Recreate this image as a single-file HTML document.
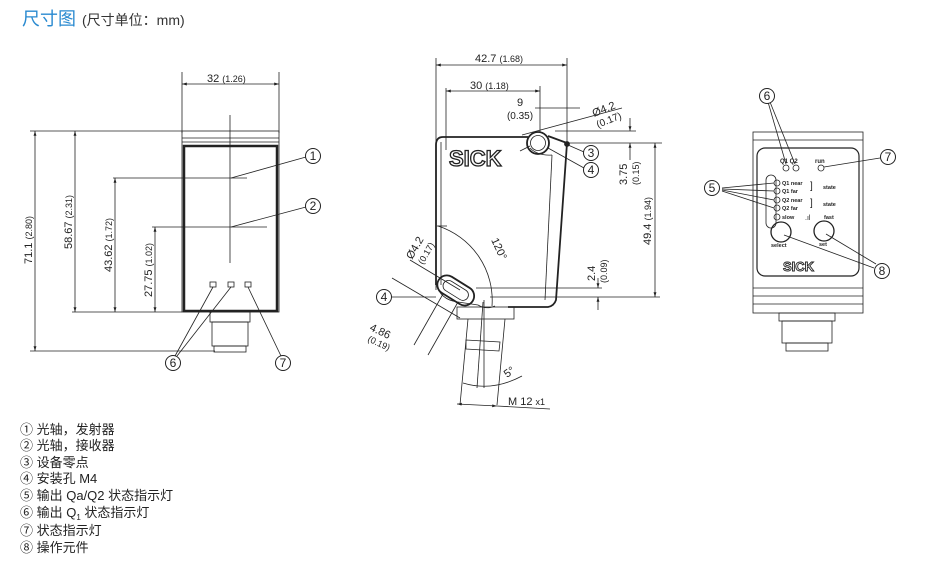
<!DOCTYPE html>
<html><head><meta charset="utf-8">
<style>
html,body{margin:0;padding:0;background:#fff;}
svg{display:block}
text{font-family:"Liberation Sans","Noto Sans CJK SC",sans-serif;fill:#222}
.d{font-size:11px}
.s{font-size:8px}
.n{font-size:12px;text-anchor:middle}
</style></head><body>
<svg width="936" height="566" viewBox="0 0 936 566" xmlns="http://www.w3.org/2000/svg">
<defs>
<marker id="a" viewBox="0 0 10 10" refX="10" refY="5" markerWidth="6" markerHeight="6" orient="auto-start-reverse"><path d="M0,2 L10,5 L0,8z" fill="#222"/></marker>
</defs>
<text x="22" y="25" style="font-size:18px;fill:#2a8ad0">尺寸图</text>
<text x="82" y="25" style="font-size:14px;fill:#333">(尺寸单位：mm)</text>

<g stroke="#222" fill="none" stroke-width="0.8">
<!-- LEFT -->
<line x1="182" y1="72" x2="182" y2="133"/><line x1="279" y1="72" x2="279" y2="133"/>
<line x1="182" y1="84" x2="279" y2="84" marker-start="url(#a)" marker-end="url(#a)"/>
<rect x="182" y="131" width="97" height="181"/>
<line x1="182" y1="138" x2="279" y2="138"/><line x1="182" y1="142" x2="279" y2="142"/>
<rect x="184" y="146" width="93" height="165" stroke-width="2.5"/>
<line x1="230" y1="115" x2="230" y2="263"/>
<line x1="113" y1="178" x2="247" y2="178"/>
<line x1="152" y1="227" x2="267" y2="227"/>
<line x1="30" y1="131" x2="182" y2="131"/>
<line x1="30" y1="351" x2="215" y2="351"/>
<line x1="72" y1="312" x2="182" y2="312"/>
<line x1="35" y1="131" x2="35" y2="351" marker-start="url(#a)" marker-end="url(#a)"/>
<line x1="75" y1="131" x2="75" y2="312" marker-start="url(#a)" marker-end="url(#a)"/>
<line x1="115" y1="178" x2="115" y2="312" marker-start="url(#a)" marker-end="url(#a)"/>
<line x1="155" y1="227" x2="155" y2="312" marker-start="url(#a)" marker-end="url(#a)"/>
<rect x="210" y="282" width="6" height="5"/><rect x="228" y="282" width="6" height="5"/><rect x="245" y="282" width="6" height="5"/>
<rect x="210" y="312" width="40" height="10"/><rect x="212" y="322" width="36" height="24"/><rect x="214" y="346" width="32" height="6"/>
<line x1="231" y1="178" x2="306" y2="157"/>
<line x1="231" y1="227" x2="306" y2="207"/>
<line x1="213" y1="287" x2="175" y2="356"/><line x1="231" y1="287" x2="177" y2="356"/>
<line x1="248" y1="287" x2="281" y2="356"/>

<!-- MIDDLE -->
<line x1="436" y1="58" x2="436" y2="290"/><line x1="567" y1="58" x2="567" y2="143"/>
<line x1="436" y1="65" x2="567" y2="65" marker-start="url(#a)" marker-end="url(#a)"/>
<line x1="446" y1="88" x2="446" y2="150"/><line x1="540" y1="86" x2="540" y2="133"/>
<line x1="446" y1="91" x2="540" y2="91" marker-start="url(#a)" marker-end="url(#a)"/>
<line x1="535" y1="108" x2="580" y2="108"/>
<line x1="522" y1="135" x2="622" y2="108"/>
<path d="M443,137 L528,137" stroke-width="1.8"/>
<path d="M443,137 Q436,137 436,145 L436,285" stroke-width="1.8"/>
<path d="M441,142 L441,285" />
<path d="M548,136 L567,143 L556,300 Q554,306 548,307 L508,307" stroke-width="1.8"/>
<path d="M552,155 L545,300"/>
<path d="M530,148 Q538,156 552,155"/>
<circle cx="538" cy="143" r="11" stroke-width="1.8"/><circle cx="538" cy="143" r="7.5"/>
<circle cx="567" cy="144" r="2.5" fill="#222"/>
<line x1="555" y1="131" x2="636" y2="131"/>
<line x1="567" y1="143" x2="662" y2="143"/>
<line x1="630" y1="118" x2="630" y2="131" marker-end="url(#a)"/><line x1="630" y1="160" x2="630" y2="143" marker-end="url(#a)"/>
<line x1="655" y1="143" x2="655" y2="297" marker-start="url(#a)" marker-end="url(#a)"/>
<line x1="476" y1="288" x2="602" y2="288"/><line x1="490" y1="297" x2="660" y2="297"/>
<line x1="598" y1="278" x2="598" y2="288" marker-end="url(#a)"/><line x1="598" y1="310" x2="598" y2="297" marker-end="url(#a)"/>
<line x1="568" y1="145" x2="584" y2="152"/>
<line x1="548" y1="148" x2="584" y2="168"/>
<line x1="520" y1="151" x2="530" y2="146"/>
<g transform="rotate(32 456 290)"><rect x="436" y="281" width="40" height="19" rx="9.5" stroke-width="1.8"/><rect x="442" y="285" width="28" height="11" rx="5.5"/></g>
<path d="M436,283 Q440,300 458,302 L478,305 Q486,310 495,306"/>
<line x1="392" y1="297" x2="436" y2="297"/>
<path d="M438,226 A78,78 0 0 1 492,306"/>
<line x1="437" y1="226" x2="447" y2="226"/>
<line x1="392" y1="278" x2="460" y2="318"/>
<line x1="410" y1="260" x2="460" y2="290"/>
<line x1="414" y1="345" x2="443" y2="294"/><line x1="428" y1="355" x2="458" y2="302"/>
<rect x="457" y="307" width="57" height="12"/>
<path d="M468,319 L460,405 M505,319 L497,405"/>
<path d="M466,340 L500,342 L499,351 L466,349z"/>
<line x1="484" y1="300" x2="484" y2="388"/><line x1="483" y1="302" x2="477" y2="388"/>
<path d="M463,383 Q492,392 522,376"/>
<line x1="457" y1="404" x2="497" y2="406" marker-start="url(#a)" marker-end="url(#a)"/>
<line x1="497" y1="406" x2="550" y2="409"/>

<!-- RIGHT -->
<rect x="753" y="132" width="110" height="181"/>
<line x1="753" y1="140" x2="863" y2="140"/>
<line x1="753" y1="288" x2="863" y2="288"/><line x1="753" y1="296" x2="863" y2="296"/><line x1="753" y1="304" x2="863" y2="304"/>
<rect x="757" y="148" width="102" height="128" rx="8" stroke-width="1.2"/>
<rect x="779" y="313" width="56" height="8"/><rect x="782" y="321" width="50" height="22"/><rect x="786" y="343" width="42" height="8"/>
<circle cx="786" cy="168" r="3"/><circle cx="796" cy="168" r="3"/><circle cx="821" cy="168" r="3"/>
<circle cx="777" cy="183" r="3"/><circle cx="777" cy="191" r="3"/><circle cx="777" cy="200" r="3"/><circle cx="777" cy="208" r="3"/><circle cx="777" cy="217" r="3"/>
<rect x="766" y="175" width="10" height="53" rx="5"/>
<circle cx="781" cy="232" r="10" stroke-width="1.3"/><circle cx="824" cy="231" r="10" stroke-width="1.3"/>
<line x1="768" y1="102" x2="786" y2="164"/><line x1="770" y1="102" x2="795" y2="164"/>
<line x1="824" y1="167" x2="880" y2="158"/>
<line x1="722" y1="188" x2="774" y2="183"/><line x1="722" y1="189" x2="774" y2="191"/><line x1="722" y1="190" x2="774" y2="200"/><line x1="722" y1="191" x2="774" y2="208"/>
<line x1="784" y1="235" x2="874" y2="268"/><line x1="826" y1="234" x2="876" y2="264"/>

<!-- callout circles -->
<g fill="#fff" stroke-width="1">
<circle cx="313" cy="156" r="7.5"/><circle cx="313" cy="206" r="7.5"/>
<circle cx="173" cy="363" r="7.5"/><circle cx="283" cy="363" r="7.5"/>
<circle cx="591" cy="153" r="7.5"/><circle cx="591" cy="170" r="7.5"/>
<circle cx="384" cy="297" r="7.5"/>
<circle cx="767" cy="96" r="7.5"/><circle cx="888" cy="157" r="7.5"/>
<circle cx="712" cy="188" r="7.5"/><circle cx="882" cy="271" r="7.5"/>
</g>
</g>

<g class="n">
<text class="n" x="313" y="160">1</text><text class="n" x="313" y="210">2</text>
<text class="n" x="173" y="367">6</text><text class="n" x="283" y="367">7</text>
<text class="n" x="591" y="157">3</text><text class="n" x="591" y="174">4</text>
<text class="n" x="384" y="301">4</text>
<text class="n" x="767" y="100">6</text><text class="n" x="888" y="161">7</text>
<text class="n" x="712" y="192">5</text><text class="n" x="882" y="275">8</text>
</g>

<!-- left texts -->
<text x="207" y="82" class="d">32 <tspan style="font-size:9px">(1.26)</tspan></text>
<text class="d" transform="translate(32,240) rotate(-90)" text-anchor="middle">71.1 <tspan style="font-size:9px">(2.80)</tspan></text>
<text class="d" transform="translate(72,222) rotate(-90)" text-anchor="middle">58.67 <tspan style="font-size:9px">(2.31)</tspan></text>
<text class="d" transform="translate(112,245) rotate(-90)" text-anchor="middle">43.62 <tspan style="font-size:9px">(1.72)</tspan></text>
<text class="d" transform="translate(152,270) rotate(-90)" text-anchor="middle">27.75 <tspan style="font-size:9px">(1.02)</tspan></text>

<!-- middle texts -->
<text x="475" y="62" class="d">42.7 <tspan style="font-size:9px">(1.68)</tspan></text>
<text x="470" y="89" class="d">30 <tspan style="font-size:9px">(1.18)</tspan></text>
<text x="520" y="106" class="d" text-anchor="middle">9</text>
<text x="520" y="119" class="d" text-anchor="middle" style="font-size:10px">(0.35)</text>
<text class="d" transform="translate(594,117) rotate(-22)">Ø4.2</text>
<text class="d" transform="translate(598,128) rotate(-22)" style="font-size:10px">(0.17)</text>
<text x="449" y="166" style="font-size:22px;font-weight:bold;fill:#fff;stroke:#222;stroke-width:1.3">SICK</text>
<text class="d" transform="translate(627,185) rotate(-90)">3.75</text>
<text class="d" transform="translate(639,185) rotate(-90)" style="font-size:9px">(0.15)</text>
<text class="d" transform="translate(651,245) rotate(-90)">49.4 <tspan style="font-size:9px">(1.94)</tspan></text>
<text class="d" transform="translate(595,281) rotate(-90)">2.4</text>
<text class="d" transform="translate(607,283) rotate(-90)" style="font-size:9px">(0.09)</text>
<text class="d" transform="translate(491,240) rotate(65)">120°</text>
<text class="d" transform="translate(412,260) rotate(-60)">Ø4.2</text>
<text class="d" transform="translate(423,265) rotate(-60)" style="font-size:9px">(0.17)</text>
<text class="d" transform="translate(369,330) rotate(25)">4.86</text>
<text class="d" transform="translate(367,341) rotate(25)" style="font-size:9px">(0.19)</text>
<text class="d" transform="translate(507,378) rotate(-35)">5°</text>
<text x="508" y="405" class="d">M 12 <tspan style="font-size:9px">x1</tspan></text>

<!-- right texts -->
<text x="780" y="163" style="font-size:6px;font-weight:bold">Q1 Q2</text>
<text x="815" y="163" style="font-size:6px;font-weight:bold">run</text>
<g style="font-size:5.5px;font-weight:bold">
<text x="782" y="185">Q1 near</text><text x="782" y="193">Q1 far</text><text x="782" y="202">Q2 near</text><text x="782" y="210">Q2 far</text><text x="782" y="219">slow</text>
<text x="823" y="189">state</text><text x="823" y="206">state</text><text x="824" y="219">fast</text>
<text x="771" y="247">select</text><text x="819" y="246">set</text>
</g>
<text x="810" y="189" style="font-size:10px">]</text><text x="810" y="206" style="font-size:10px">]</text>
<text x="805" y="220" style="font-size:7px">.ıl</text>
<text x="783" y="271" style="font-size:13px;font-weight:bold;fill:#fff;stroke:#222;stroke-width:0.9">SICK</text>

<!-- legend -->
<g style="font-size:13px">
<text x="20" y="434">①  光轴，发射器</text>
<text x="20" y="450">②  光轴，接收器</text>
<text x="20" y="467">③  设备零点</text>
<text x="20" y="483">④  安装孔 M4</text>
<text x="20" y="500">⑤  输出 Qa/Q2 状态指示灯</text>
<text x="20" y="517">⑥  输出 Q<tspan style="font-size:8px" dy="3">1</tspan><tspan dy="-3"> 状态指示灯</tspan></text>
<text x="20" y="535">⑦  状态指示灯</text>
<text x="20" y="552">⑧  操作元件</text>
</g>
</svg>
</body></html>
